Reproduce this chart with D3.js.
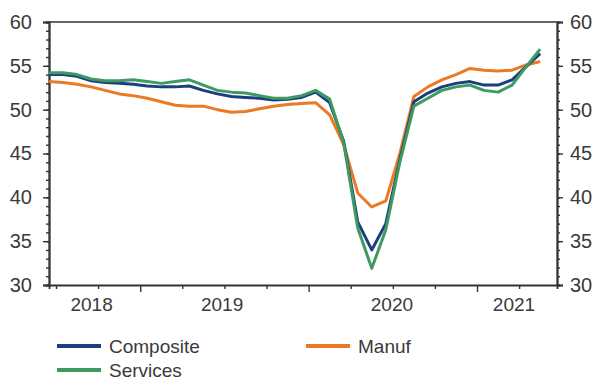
<!DOCTYPE html>
<html><head><meta charset="utf-8">
<script src="https://cdn.jsdelivr.net/npm/d3@7"></script>
<style>body{margin:0;background:#fff}svg{display:block}text{font-family:"Liberation Sans",Arial,sans-serif;fill:#3a3a3a}</style>
</head><body><svg id="c" width="594" height="381"></svg>
<script>
// month index 0..35
const composite = [54.0,54.0,53.8,53.3,53.1,53.0,52.9,52.7,52.6,52.6,52.7,52.2,51.8,51.5,51.4,51.3,51.1,51.2,51.4,52.0,50.8,46.4,37.2,34.0,37.0,44.3,50.9,51.9,52.6,53.0,53.2,52.8,52.8,53.4,54.9,56.4];
const manuf     = [53.2,53.1,52.9,52.6,52.2,51.8,51.6,51.3,50.9,50.5,50.4,50.4,50.0,49.7,49.8,50.1,50.4,50.6,50.7,50.8,49.4,46.0,40.5,38.9,39.6,45.0,51.5,52.6,53.4,54.0,54.7,54.5,54.4,54.5,55.1,55.5];
const services  = [54.2,54.2,54.0,53.5,53.3,53.3,53.4,53.2,53.0,53.2,53.4,52.8,52.2,52.0,51.9,51.6,51.3,51.3,51.6,52.2,51.2,46.2,36.5,31.9,36.3,44.0,50.4,51.3,52.2,52.6,52.8,52.2,52.0,52.8,54.9,56.9];
const seriesNames = ["Composite","Manuf","Services"];
const yTicks = [30,35,40,45,50,55,60];
const yearLabels = ["2018","2019","2020","2021"];
const yearPos = [3.0,12.3,24.4,33.1];
const quarterTicks = [0.5,3.5,6.5,9.5,12.5,15.5,18.5,21.5,24.5,27.5,30.5,33.5];
const majorQuarter = [6.5,18.5,30.5];

const svg = d3.select("#c");
const L=49,R=557,T=22,B=285;
const x = d3.scaleLinear().domain([0,36.2]).range([L,R]);
const y = d3.scaleLinear().domain([30,60]).range([B,T]);
const axisColor="#333";
const colors={Composite:"#1b3f7d",Manuf:"#ec7a23",Services:"#3f9a62"};

// frame top line
svg.append("line").attr("x1",L).attr("x2",R).attr("y1",T).attr("y2",T).attr("stroke",axisColor).attr("stroke-width",1.6);

// left axis
const minor = d3.range(30,61,1);
const gl = svg.append("g").attr("transform",`translate(${L},0)`);
gl.call(d3.axisLeft(y).tickValues(minor).tickSize(3).tickFormat(""));
const gl2 = svg.append("g").attr("transform",`translate(${L},0)`);
gl2.call(d3.axisLeft(y).tickValues(yTicks).tickSize(6).tickPadding(11).tickFormat(d3.format("d")));
// right axis
const gr = svg.append("g").attr("transform",`translate(${R},0)`);
gr.call(d3.axisRight(y).tickValues(minor).tickSize(3).tickFormat(""));
const gr2 = svg.append("g").attr("transform",`translate(${R},0)`);
gr2.call(d3.axisRight(y).tickValues(yTicks).tickSize(6).tickPadding(7).tickFormat(d3.format("d")));
// bottom axis
const gb = svg.append("g").attr("transform",`translate(0,${B})`);
gb.call(d3.axisBottom(x).tickValues(quarterTicks).tickSize(4).tickFormat(""));
gb.selectAll(".tick line").filter(d=>majorQuarter.includes(d)).attr("y2",7);
const gy = svg.append("g").attr("transform",`translate(0,${B})`);
gy.call(d3.axisBottom(x).tickValues(yearPos).tickSize(0).tickPadding(13).tickFormat((d,i)=>yearLabels[i]));
gy.select(".domain").remove();

svg.selectAll(".domain").attr("stroke",axisColor).attr("stroke-width",1.8);
svg.selectAll(".tick line").attr("stroke",axisColor).attr("stroke-width",1.4);
svg.selectAll(".tick text").attr("font-size",20).attr("fill","#3a3a3a").attr("font-family","Liberation Sans, Arial, sans-serif");
gy.selectAll(".tick text").attr("font-size",19);

// lines
const line = d3.line().x((d,i)=>x(i)).y(d=>y(d));
const data = {Composite:composite,Manuf:manuf,Services:services};
["Manuf","Composite","Services"].forEach(n=>{
  svg.append("path").datum(data[n]).attr("d",line).attr("fill","none")
    .attr("stroke",colors[n]).attr("stroke-width",3).attr("stroke-linejoin","round");
});

// legend
const leg = [{n:"Composite",lx:57,ty:346},{n:"Manuf",lx:306,ty:346},{n:"Services",lx:57,ty:370}];
leg.forEach(l=>{
  svg.append("line").attr("x1",l.lx).attr("x2",l.lx+44).attr("y1",l.ty).attr("y2",l.ty)
    .attr("stroke",colors[l.n]).attr("stroke-width",4);
  svg.append("text").attr("x",l.lx+52).attr("y",l.ty).attr("dy","0.35em")
    .attr("font-size",19).text(l.n);
});
</script></body></html>
